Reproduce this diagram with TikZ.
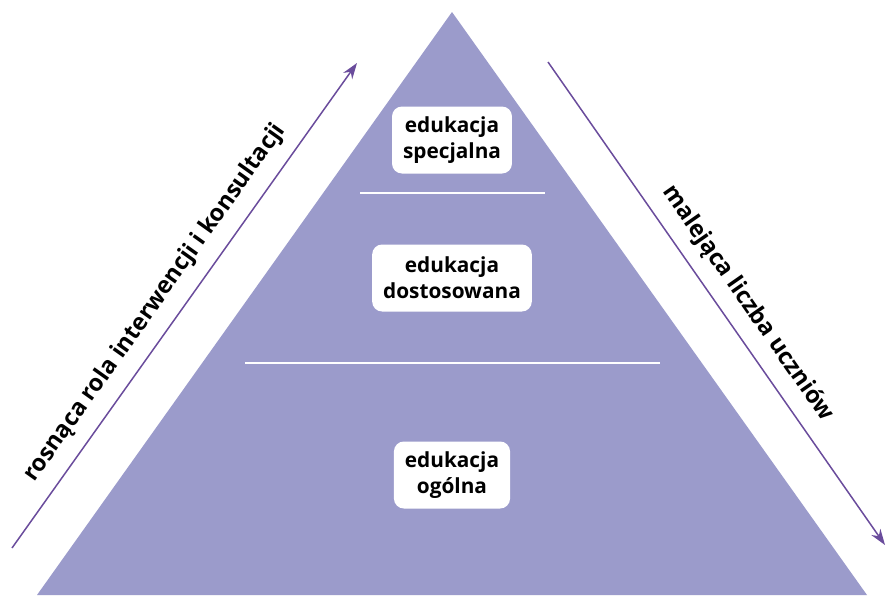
\documentclass[tikz,border=0pt]{standalone}
\usepackage{fontspec}
\setmainfont{Open Sans}
\usetikzlibrary{arrows.meta}
\definecolor{pyramidfill}{RGB}{155,155,203}
\definecolor{trendpurple}{RGB}{106,76,156}

\begin{document}
\begin{tikzpicture}[x=1pt, y=-1pt,
    level/.style={rectangle, rounded corners=10pt, fill=white, align=center,
        font=\fontsize{20.8}{26}\selectfont\bfseries, minimum height=67pt, inner xsep=11pt},
    divider/.style={white, line width=2pt},
    trend/.style={trendpurple, line width=1.5pt, -{Stealth[length=16pt, width=11pt]}},
    trendlabel/.style={text=black, font=\fontsize{23.5}{28}\selectfont\bfseries, sloped, above=13pt, inner sep=0pt}]
    \useasboundingbox (0,0) rectangle (887,595);

    % pyramid
    \coordinate (apex) at (452,12);
    \coordinate (baseleft) at (37,595);
    \coordinate (baseright) at (867,595);
    \fill[pyramidfill] (apex) -- (baseleft) -- (baseright) -- cycle;
    \draw[divider] (360,193) -- (545,193);
    \draw[divider] (245,363) -- (660,363);

    % levels
    \node [level] (special) at (452,140) {edukacja\\specjalna};
    \node [level] (adapted) at (452,278) {edukacja\\dostosowana};
    \node [level] (general) at (452,475) {edukacja\\ogólna};

    % side arrows
    \coordinate (risestart) at (12,548);
    \coordinate (riseend) at (357,63);
    \draw[trend] (risestart) -- node[trendlabel, pos=0.475] (risetext) {rosnąca rola interwencji i konsultacji} (riseend);
    \coordinate (fallstart) at (548,62);
    \coordinate (fallend) at (885,545);
    \draw[trend] (fallstart) -- node[trendlabel, pos=0.53] (falltext) {malejąca liczba uczniów} (fallend);
\end{tikzpicture}
\end{document}
